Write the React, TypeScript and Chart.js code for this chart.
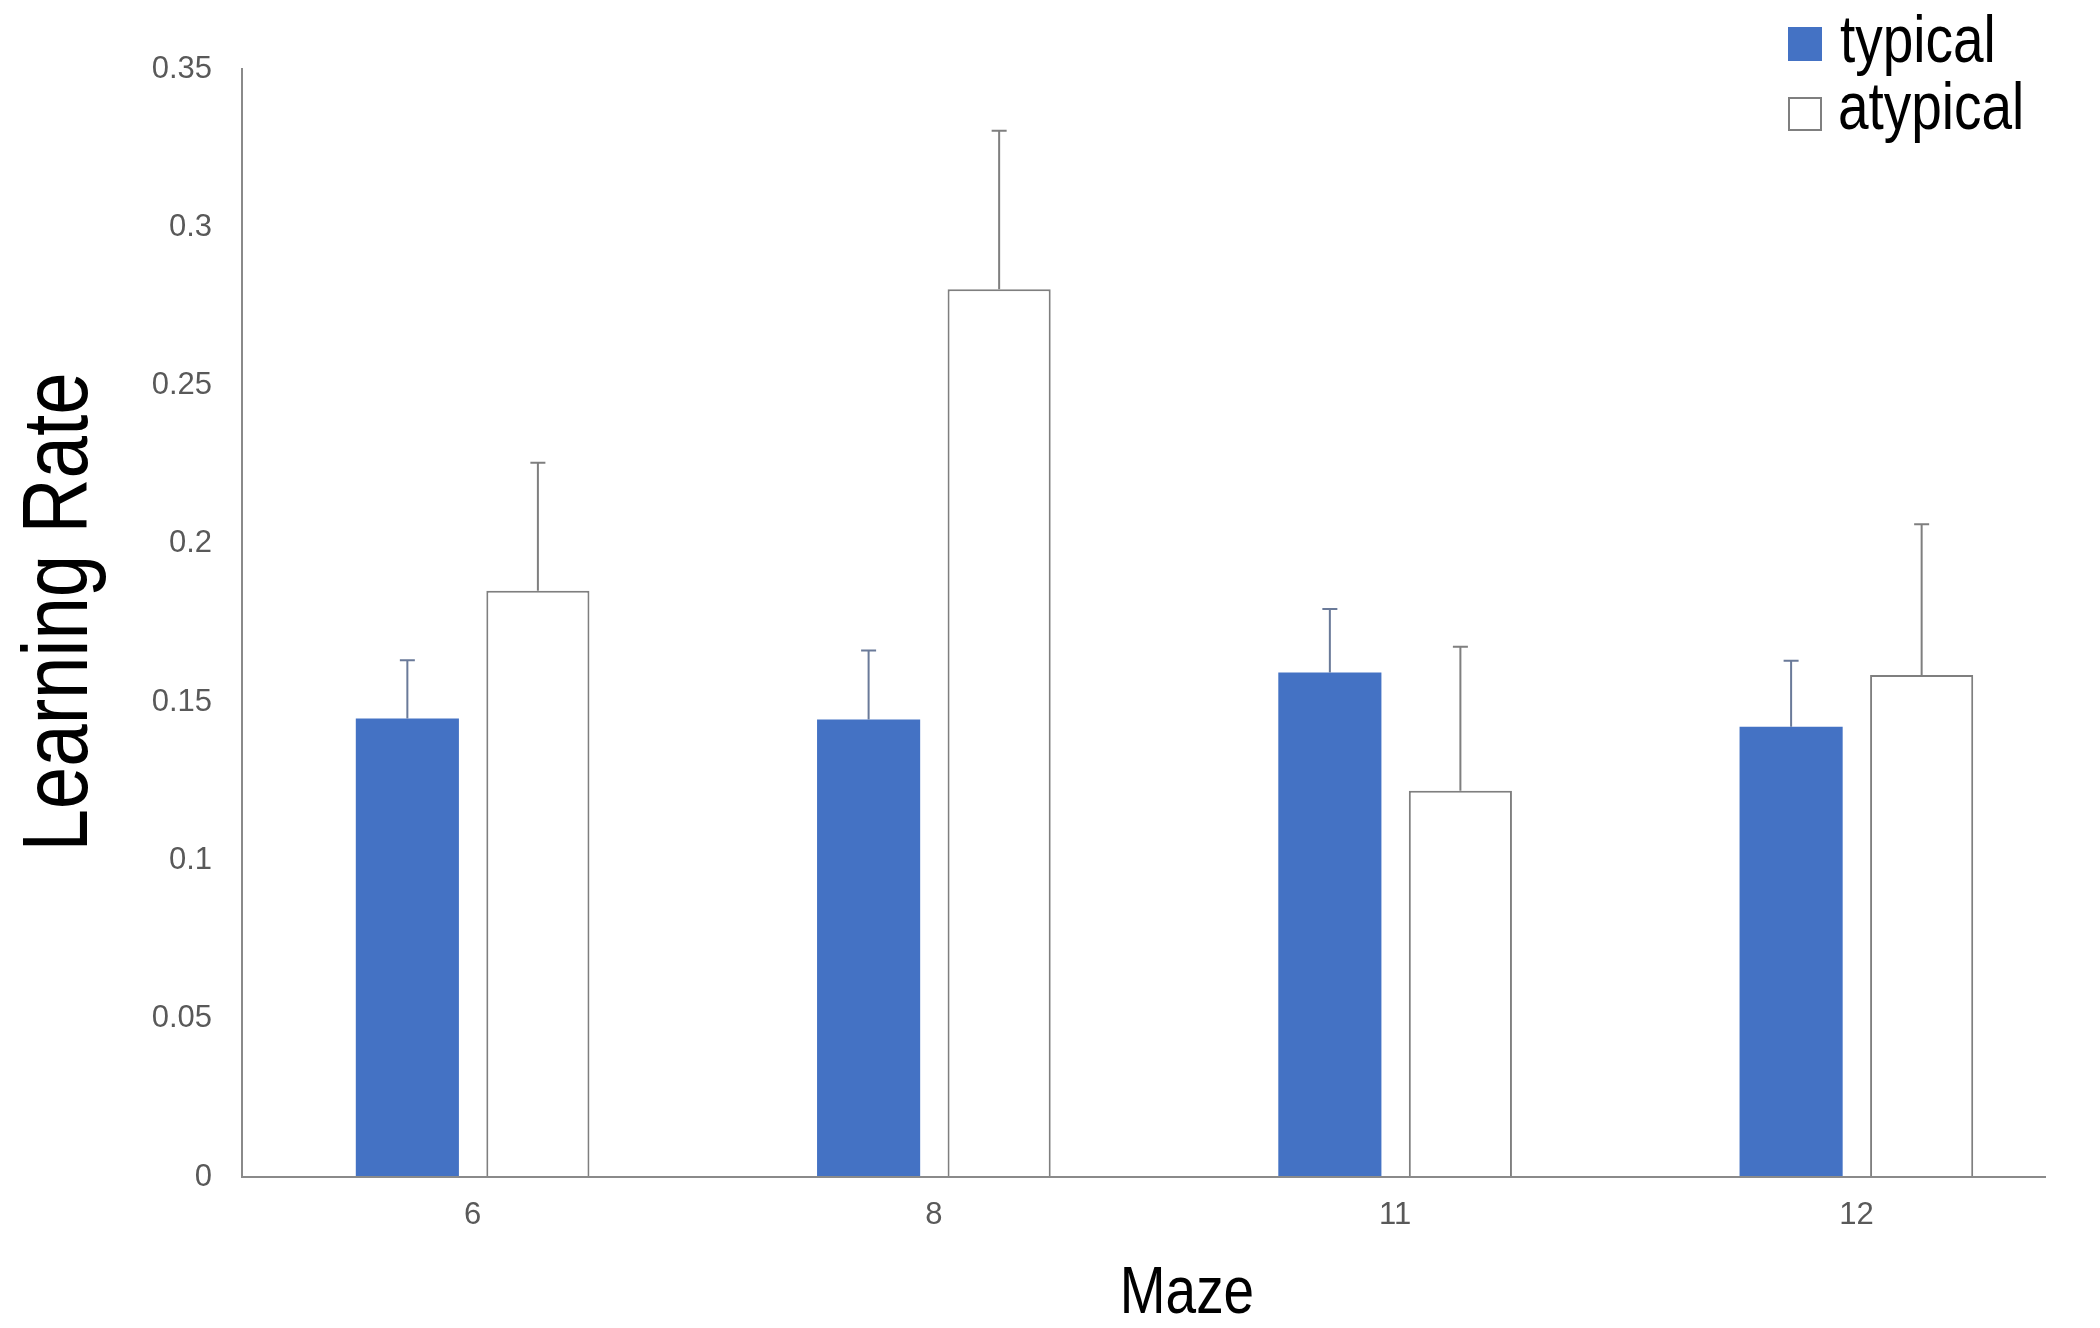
import React, { useEffect, useRef } from "react";
import { Chart, registerables } from "chart.js";

Chart.register(...registerables);

const mazes = ["6", "8", "11", "12"];
const typicalValues = [0.1448, 0.1445, 0.1594, 0.1422];
const typicalErrors = [0.0184, 0.0218, 0.0200, 0.0209];
const atypicalValues = [0.1852, 0.2804, 0.1220, 0.1586];
const atypicalErrors = [0.0404, 0.0501, 0.0455, 0.0476];
const yTicks = [0, 0.05, 0.1, 0.15, 0.2, 0.25, 0.3, 0.35];
const seriesNames = ["typical", "atypical"];

const SANS = '"Liberation Sans", Arial, sans-serif';
const BLUE = "#4472C4";
const GRAY = "#7f7f7f";
const AXIS = "#8a8a8a";
const SQUEEZE = 0.82;

function narrowText(ctx: any, text: string, x: number, y: number, size: number, align: string, rot = 0) {
  ctx.save();
  ctx.font = `${size}px ${SANS}`;
  ctx.fillStyle = "#000";
  ctx.textAlign = align;
  ctx.textBaseline = "alphabetic";
  ctx.translate(x, y);
  if (rot) ctx.rotate(rot);
  ctx.scale(SQUEEZE, 1);
  ctx.fillText(text, 0, 0);
  ctx.restore();
}

const errorBarPlugin = {
  id: "errorBars",
  afterDatasetsDraw(chart: any) {
    const ctx = chart.ctx;
    const yScale = chart.scales.y;
    chart.data.datasets.forEach((ds: any, di: number) => {
      const meta = chart.getDatasetMeta(di);
      const errs: number[] = ds.errors || [];
      meta.data.forEach((bar: any, i: number) => {
        const v = ds.data[i];
        const top = yScale.getPixelForValue(v + errs[i]);
        ctx.save();
        ctx.strokeStyle = ds.errorColor;
        ctx.lineWidth = 2;
        ctx.beginPath();
        ctx.moveTo(bar.x, bar.y);
        ctx.lineTo(bar.x, top);
        ctx.moveTo(bar.x - 7.5, top);
        ctx.lineTo(bar.x + 7.5, top);
        ctx.stroke();
        ctx.restore();
      });
    });
  },
};

const decorPlugin = {
  id: "decor",
  afterDatasetsDraw(chart: any) {
    const ctx = chart.ctx;
    const { left, bottom } = chart.chartArea;
    ctx.save();
    ctx.strokeStyle = AXIS;
    ctx.lineWidth = 2;
    ctx.beginPath();
    ctx.moveTo(left - 1, bottom);
    ctx.lineTo(2046, bottom);
    ctx.stroke();
    ctx.restore();
  },
  afterDraw(chart: any) {
    const ctx = chart.ctx;
    narrowText(ctx, "Learning Rate", 87, 612, 93, "center", -Math.PI / 2);
    narrowText(ctx, "Maze", 1187, 1313, 67, "center");

    ctx.save();
    ctx.fillStyle = BLUE;
    ctx.fillRect(1788, 27, 34, 34);
    ctx.fillStyle = "#fff";
    ctx.fillRect(1789, 98, 32, 32);
    ctx.strokeStyle = GRAY;
    ctx.lineWidth = 2;
    ctx.strokeRect(1789, 98, 32, 32);
    ctx.restore();
    narrowText(ctx, seriesNames[0], 1840, 62, 67, "left");
    narrowText(ctx, seriesNames[1], 1838, 129, 67, "left");
  },
};

export default function App() {
  const ref = useRef<HTMLCanvasElement | null>(null);
  useEffect(() => {
    if (!ref.current) return;
    const chart = new Chart(ref.current, {
      type: "bar",
      data: {
        labels: mazes,
        datasets: [
          {
            label: seriesNames[0],
            data: typicalValues,
            errors: typicalErrors,
            errorColor: "#6a7a99",
            backgroundColor: BLUE,
            borderWidth: 0,
            categoryPercentage: 0.566,
            barPercentage: 0.79,
          } as any,
          {
            label: seriesNames[1],
            data: atypicalValues,
            errors: atypicalErrors,
            errorColor: GRAY,
            backgroundColor: "#ffffff",
            borderColor: GRAY,
            borderWidth: 2,
            categoryPercentage: 0.566,
            barPercentage: 0.79,
          } as any,
        ],
      },
      options: {
        animation: false,
        responsive: false,
        maintainAspectRatio: false,
        devicePixelRatio: 1,
        layout: { padding: { left: 0, right: 13, top: 69, bottom: 0 } },
        plugins: {
          legend: { display: false },
          tooltip: { enabled: false },
          title: { display: false },
        },
        scales: {
          x: {
            grid: { display: false, drawTicks: false },
            border: { display: false },
            ticks: {
              color: "#595959",
              font: { family: SANS, size: 31 },
              padding: 20,
            },
            afterFit: (s: any) => {
              s.height = 151;
            },
          },
          y: {
            min: 0,
            max: 0.35,
            afterBuildTicks: (s: any) => {
              s.ticks = yTicks.map((v) => ({ value: v }));
            },
            grid: { display: false, drawTicks: false },
            border: { display: true, color: AXIS, width: 2 },
            ticks: {
              color: "#595959",
              font: { family: SANS, size: 31 },
              padding: 30,
              callback: (v: any) => String(Number(Number(v).toFixed(2))),
            },
            afterFit: (s: any) => {
              s.width = 242;
            },
          },
        },
      },
      plugins: [errorBarPlugin, decorPlugin],
    });
    return () => chart.destroy();
  }, []);
  return (
    <div style={{ position: "fixed", left: 0, top: 0, width: 2100, height: 1328, background: "#fff" }}>
      <canvas ref={ref} width={2100} height={1328} style={{ width: 2100, height: 1328, display: "block" }} />
    </div>
  );
}
